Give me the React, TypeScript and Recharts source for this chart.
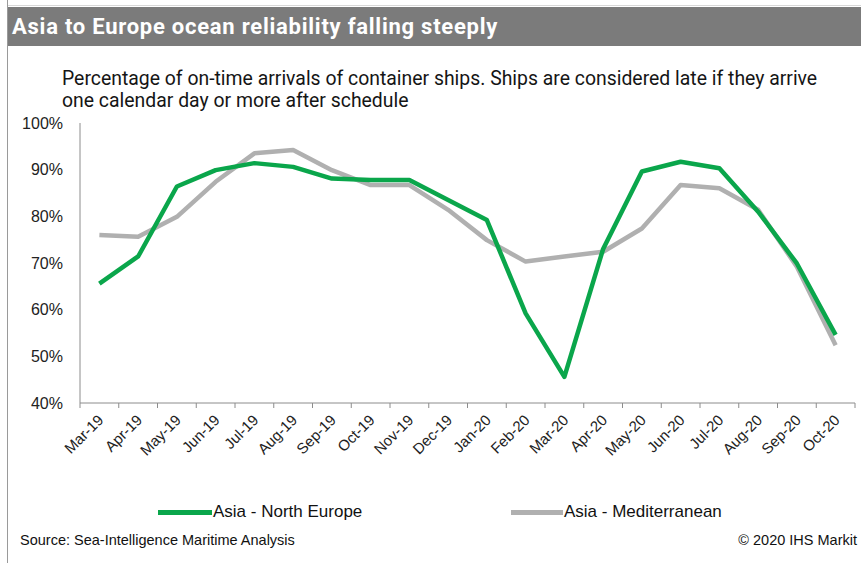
import React from 'react';
import { LineChart, Line, XAxis, YAxis } from 'recharts';

const months = ['Mar-19','Apr-19','May-19','Jun-19','Jul-19','Aug-19','Sep-19','Oct-19','Nov-19','Dec-19','Jan-20','Feb-20','Mar-20','Apr-20','May-20','Jun-20','Jul-20','Aug-20','Sep-20','Oct-20'];
const northEurope = [65.6, 71.4, 86.4, 89.9, 91.4, 90.6, 88.1, 87.8, 87.8, 83.5, 79.2, 59.2, 45.6, 73.0, 89.6, 91.7, 90.3, 81.0, 69.9, 54.6];
const mediterranean = [76.0, 75.6, 79.9, 87.4, 93.5, 94.2, 89.9, 86.7, 86.7, 81.4, 74.9, 70.3, 71.4, 72.4, 77.4, 86.7, 86.0, 81.4, 69.2, 52.4];
const yTicks = [40, 50, 60, 70, 80, 90, 100];

const data = months.map((m, i) => ({ month: m, ne: northEurope[i], med: mediterranean[i] }));

const GREEN = '#0aa64b';
const GRAY = '#b0b0b0';
const AXIS = '#8c8c8c';
const FONT = '"Liberation Sans", Arial, sans-serif';
const HEAD_FONT = 'Roboto, "Liberation Sans", Arial, sans-serif';

const XTick = (props: any) => {
  const { x, y, payload, width, visibleTicksCount, index } = props;
  const half = width / visibleTicksCount / 2;
  const ax = x + 5;
  const ay = y + 18;
  return (
    <g>
      <line x1={x - half} y1={y} x2={x - half} y2={y + 5} stroke={AXIS} />
      {index === visibleTicksCount - 1 && (
        <line x1={x + half} y1={y} x2={x + half} y2={y + 5} stroke={AXIS} />
      )}
      <text x={ax} y={ay} textAnchor="end" fontSize={15} fill="#222" fontFamily={FONT}
        transform={`rotate(-45, ${ax}, ${ay})`}>
        {payload.value}
      </text>
    </g>
  );
};

export default function App() {
  return (
    <div style={{ position: 'absolute', left: 0, top: 0, width: 861, height: 563, background: '#fff', fontFamily: FONT, overflow: 'hidden' }}>
      <div style={{ position: 'absolute', left: 7, top: 5, width: 854, height: 1, background: '#d8d8d8' }} />
      <div style={{ position: 'absolute', left: 7, top: 0, width: 1, height: 563, background: '#9a9a9a' }} />
      <div style={{ position: 'absolute', left: 8, top: 7, width: 853, height: 39, background: '#7b7b7b', color: '#fff', fontWeight: 'bold', fontSize: 22, letterSpacing: 0.75, fontFamily: HEAD_FONT, lineHeight: '39px', paddingLeft: 4, boxSizing: 'border-box' }}>
        Asia to Europe ocean reliability falling steeply
      </div>
      <div style={{ position: 'absolute', left: 62, top: 68, fontSize: 19.4, fontFamily: HEAD_FONT, lineHeight: '22px', color: '#151515' }}>
        Percentage of on-time arrivals of container ships. Ships are considered late if they arrive<br />
        one calendar day or more after schedule
      </div>
      <div style={{ position: 'absolute', left: 0, top: 0 }}>
        <LineChart width={861} height={563} data={data} margin={{ top: 123, right: 6, bottom: 100, left: 20 }}>
          <XAxis dataKey="month" scale="band" interval={0} height={60} tick={<XTick />}
            axisLine={{ stroke: AXIS }} tickLine={false} tickSize={0} tickMargin={0} />
          <XAxis xAxisId="top" dataKey="month" orientation="top" height={0} tick={false} tickLine={false}
            axisLine={{ stroke: AXIS }} />
          <YAxis domain={[40, 100]} ticks={yTicks} interval={0} width={60} tickFormatter={(v: number) => `${v}%`}
            tick={{ fontSize: 16, fill: '#222', fontFamily: FONT }} tickLine={false} tickMargin={11}
            axisLine={{ stroke: AXIS }} />
          <YAxis yAxisId="right" orientation="right" width={0} tick={false} tickLine={false}
            axisLine={{ stroke: AXIS }} />
          <Line dataKey="med" stroke={GRAY} strokeWidth={4.5} dot={false} isAnimationActive={false} strokeLinejoin="round" />
          <Line dataKey="ne" stroke={GREEN} strokeWidth={4.5} dot={false} isAnimationActive={false} strokeLinejoin="round" />
        </LineChart>
      </div>
      <div style={{ position: 'absolute', left: 158, top: 502, display: 'flex', alignItems: 'center', fontSize: 17, color: '#111' }}>
        <span style={{ display: 'inline-block', width: 54, height: 5, background: GREEN, marginRight: 1 }} />
        Asia - North Europe
      </div>
      <div style={{ position: 'absolute', left: 511, top: 502, display: 'flex', alignItems: 'center', fontSize: 17, color: '#111' }}>
        <span style={{ display: 'inline-block', width: 52, height: 5, background: GRAY, marginRight: 1 }} />
        Asia - Mediterranean
      </div>
      <div style={{ position: 'absolute', left: 20, top: 532, fontSize: 14.5, color: '#111' }}>
        Source: Sea-Intelligence Maritime Analysis
      </div>
      <div style={{ position: 'absolute', right: 4, top: 532, fontSize: 14.5, color: '#111' }}>
        © 2020 IHS Markit
      </div>
    </div>
  );
}
